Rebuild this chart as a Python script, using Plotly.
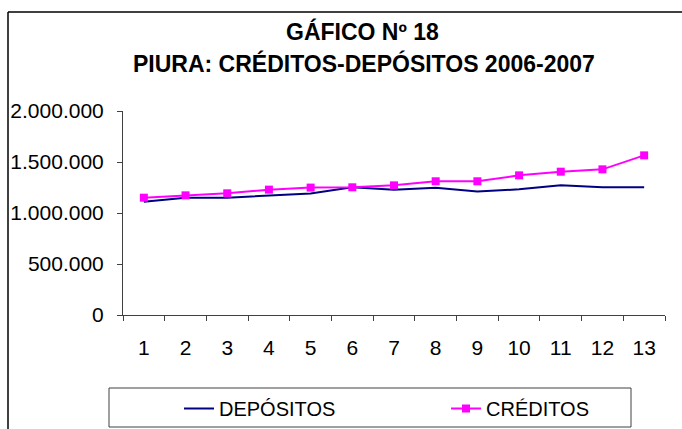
import plotly.graph_objects as go

meses = [str(i) for i in range(1, 14)]
depositos = [1111000, 1150000, 1150000, 1170000, 1192000, 1252000, 1229000,
             1248000, 1212000, 1232000, 1271000, 1252000, 1252000]
creditos = [1150000, 1173000, 1193000, 1229000, 1249000, 1252000, 1271000,
            1311000, 1311000, 1369000, 1405000, 1428000, 1565000]
y_ticks = [0, 500000, 1000000, 1500000, 2000000]

W, H = 682, 429
L, R, T, B = 123, 665, 111, 315

def px_x(p):
    return (p - L) / (R - L)

def px_y(p):
    return (B - p) / (B - T)

FONT = "Liberation Sans, Arial, sans-serif"

fig = go.Figure()
fig.add_trace(go.Scatter(x=meses, y=depositos, name="DEPÓSITOS", mode="lines",
                         line=dict(color="#000080", width=2), legend="legend"))
fig.add_trace(go.Scatter(x=meses, y=creditos, name="CRÉDITOS", mode="lines+markers",
                         line=dict(color="#FF00FF", width=2),
                         marker=dict(symbol="square", size=8, color="#FF00FF"), legend="legend2"))

leg_common = dict(orientation="h", xanchor="left", yanchor="top", y=px_y(389),
                  font=dict(size=20, family=FONT), bgcolor="rgba(0,0,0,0)", borderwidth=0)

fig.update_layout(
    width=W, height=H,
    margin=dict(l=L, r=W - R, t=T, b=H - B, pad=0, autoexpand=False),
    paper_bgcolor="white", plot_bgcolor="white",
    separators=",.",
    font=dict(family=FONT, size=18, color="black"),
    showlegend=True,
    legend=dict(x=px_x(179), **leg_common),
    legend2=dict(x=px_x(446), **leg_common),
    xaxis=dict(type="category", showgrid=False, showline=True, linecolor="#404040", linewidth=1,
               ticks="outside", ticklen=5, tickcolor="#404040", tickson="boundaries",
               range=[-0.5, 12.5], ticklabelstandoff=14,
               tickfont=dict(size=21, family=FONT), zeroline=False),
    yaxis=dict(range=[0, 2000000], tickvals=y_ticks, tickformat=",d", showgrid=False,
               showline=True, linecolor="#404040", linewidth=1, ticks="outside", ticklen=5,
               ticklabelstandoff=9,
               tickcolor="#404040", tickfont=dict(size=21, family=FONT), zeroline=False),
    annotations=[
        dict(text="<b>GÁFICO Nº 18</b>", xref="paper", yref="paper", x=px_x(362), y=px_y(31),
             xanchor="center", yanchor="middle", showarrow=False, font=dict(size=23, family=FONT)),
        dict(text="<b>PIURA: CRÉDITOS-DEPÓSITOS 2006-2007</b>", xref="paper", yref="paper",
             x=px_x(364), y=px_y(64), xanchor="center", yanchor="middle", showarrow=False,
             font=dict(size=23, family=FONT)),
    ],
    shapes=[
        dict(type="line", xref="paper", yref="paper", x0=px_x(8), x1=px_x(690), y0=px_y(12), y1=px_y(12),
             line=dict(color="black", width=1.5)),
        dict(type="line", xref="paper", yref="paper", x0=px_x(8), x1=px_x(8), y0=px_y(12), y1=px_y(440),
             line=dict(color="black", width=1.5)),
        dict(type="rect", xref="paper", yref="paper", x0=px_x(109), x1=px_x(631), y0=px_y(388), y1=px_y(427),
             line=dict(color="#404040", width=1)),
    ],
)

fig.write_html("out.html", config={"displayModeBar": False},
               post_script="document.body.style.margin='0';document.body.style.overflow='hidden';")
